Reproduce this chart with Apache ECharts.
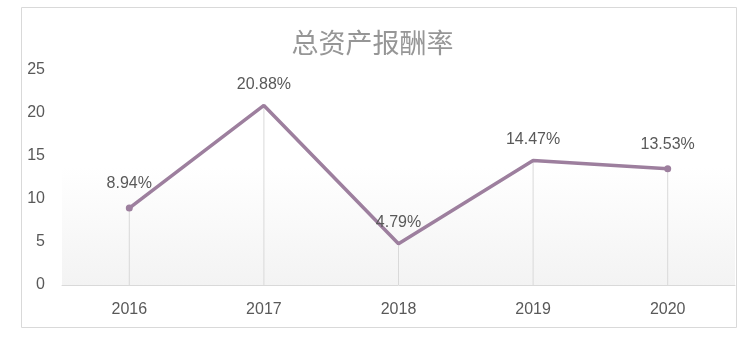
<!DOCTYPE html>
<html><head><meta charset="utf-8">
<script src="https://cdn.jsdelivr.net/npm/echarts@6/dist/echarts.min.js"></script>
<style>html,body{margin:0;padding:0;background:#fff}#c{width:745px;height:338px}</style>
</head><body><div id="c"></div>
<script>
const categories = ['2016','2017','2018','2019','2020'];
const values = [8.94, 20.88, 4.79, 14.47, 13.53];
const yTicks = [0, 5, 10, 15, 20, 25];
const title = '总资产报酬率';

const chart = echarts.init(document.getElementById('c'), null, {renderer:'canvas'});
const lineColor = '#9d7f9e';
const font = '"Liberation Sans", Arial, sans-serif';
chart.setOption({
  animation:false,
  title:{text:title,left:'center',top:24,textStyle:{fontFamily:'"Noto Sans CJK SC", sans-serif',fontSize:27,fontWeight:'normal',color:'#969696'}},
  graphic:[{type:'rect',shape:{x:21.5,y:7.5,width:715,height:320},style:{fill:'none',stroke:'#d9d9d9',lineWidth:1},z:-1}],
  grid:{left:62,right:10,top:70,bottom:53,show:true,borderWidth:0,
    backgroundColor:new echarts.graphic.LinearGradient(0,0,0,1,[{offset:0,color:'#ffffff'},{offset:0.45,color:'#ffffff'},{offset:1,color:'#f3f3f3'}])},
  xAxis:{type:'category',data:categories,boundaryGap:true,
    axisLine:{lineStyle:{color:'#d9d9d9',width:1}},axisTick:{show:false},
    axisLabel:{color:'#595959',fontSize:16,fontFamily:font,margin:17}},
  yAxis:{type:'value',min:yTicks[0],max:yTicks[yTicks.length-1],interval:5,
    axisLine:{show:false},axisTick:{show:false},splitLine:{show:false},
    axisLabel:{color:'#595959',fontSize:16,fontFamily:font,margin:17}},
  series:[
    {type:'bar',data:values,barWidth:1,itemStyle:{color:'#d9d9d9'},silent:true,z:1},
    {type:'line',z:3,showAllSymbol:true,symbol:'circle',
     data:values.map((v,i)=>({value:v,symbolSize:(i===0||i===values.length-1)?7:0})),
     lineStyle:{color:lineColor,width:3.5},itemStyle:{color:lineColor},
     label:{show:true,position:'top',distance:13,formatter:p=>p.value.toFixed(2)+'%',color:'#595959',fontSize:16,fontFamily:font}}
  ]
});
</script></body></html>
